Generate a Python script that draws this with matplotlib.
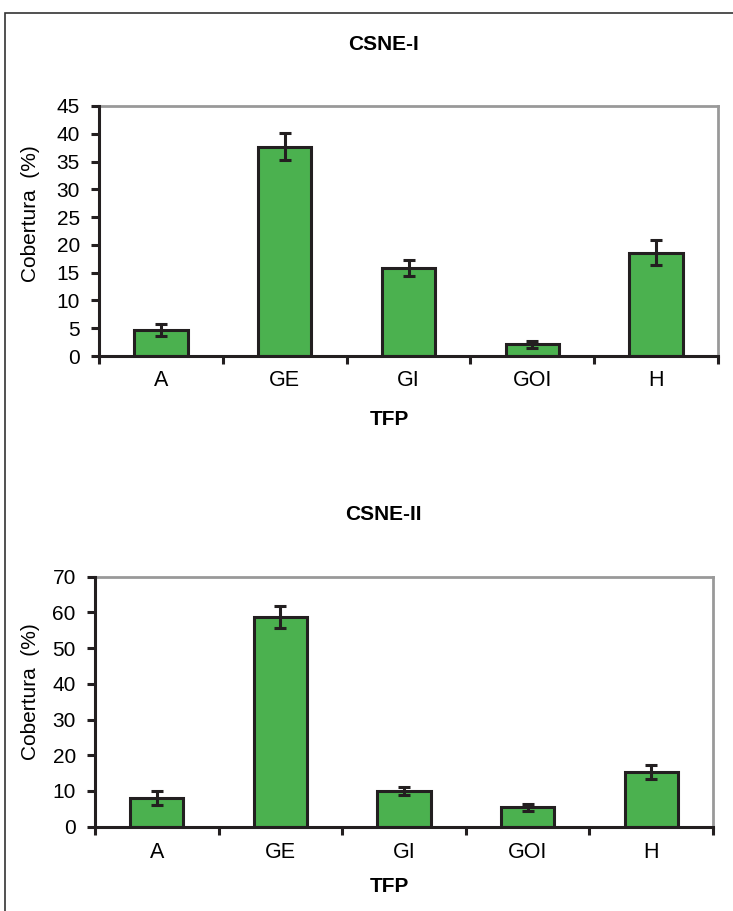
import numpy as np
import matplotlib.pyplot as plt
from matplotlib.patches import Rectangle

# Data
categories = ['A', 'GE', 'GI', 'GOI', 'H']
csne1_values = [4.7, 37.7, 15.8, 2.1, 18.6]
csne1_errors = [1.1, 2.4, 1.4, 0.6, 2.2]
csne2_values = [8.1, 58.7, 10.1, 5.4, 15.4]
csne2_errors = [2.0, 3.0, 1.1, 1.0, 2.0]
csne1_yticks = [0, 5, 10, 15, 20, 25, 30, 35, 40, 45]
csne2_yticks = [0, 10, 20, 30, 40, 50, 60, 70]

plt.rcParams['font.family'] = ['Liberation Sans', 'DejaVu Sans']

W, H = 733, 911
fig = plt.figure(figsize=(W / 100, H / 100), dpi=100)
fig.patch.set_facecolor('white')

# outer frame (runs off the right and bottom edges)
fig.patches.append(Rectangle((4.5 / W, -0.1), 1.2, 1 - 12.5 / H + 0.1,
                             transform=fig.transFigure, fill=False,
                             edgecolor='#333333', linewidth=1.2))

green = '#4BB14F'
dark = '#231F20'


def panel(rect, values, errors, yticks, title, title_y, lab_y, tfp_y, ylab_y):
    ax = fig.add_axes(rect)
    x = np.arange(len(categories))
    ax.bar(x, values, width=0.43, color=green, edgecolor=dark, linewidth=2.2, zorder=2)
    ax.errorbar(x, values, yerr=errors, fmt='none', ecolor=dark,
                elinewidth=2.2, capsize=4, capthick=2.2, zorder=3)
    ax.set_xlim(-0.5, len(categories) - 0.5)
    ax.set_ylim(0, yticks[-1])
    ax.set_yticks(yticks)
    ax.set_yticklabels([str(t) for t in yticks], fontsize=15)
    ax.set_xticks([])
    ax.set_xticks(np.arange(len(categories) + 1) - 0.5, minor=True)
    ax.tick_params(axis='x', which='minor', length=5.5, width=2.2, color=dark, direction='out')
    ax.tick_params(axis='y', length=5.8, width=2.2, color=dark, direction='out', pad=8)
    for s in ['left', 'bottom']:
        ax.spines[s].set_color(dark)
        ax.spines[s].set_linewidth(2.2)
        ax.spines[s].set_zorder(4)
    for s in ['top', 'right']:
        ax.spines[s].set_color('#999999')
        ax.spines[s].set_linewidth(2.0)

    # category labels centred in each slot
    x0, x1 = rect[0], rect[0] + rect[2]
    for i, c in enumerate(categories):
        fx = x0 + (i + 0.5) / len(categories) * (x1 - x0)
        fig.text(fx, 1 - lab_y / H, c, ha='center', va='center', fontsize=15.5)

    fig.text(383 / W, 1 - title_y / H, title, ha='center', va='center',
             fontsize=15, fontweight='bold')
    fig.text(389 / W, 1 - tfp_y / H, 'TFP', ha='center', va='center',
             fontsize=15, fontweight='bold')
    fig.text(31 / W, 1 - ylab_y / H, 'Cobertura  (%)', ha='center', va='center',
             rotation=90, fontsize=15)
    return ax


panel([99 / W, 1 - 356 / H, (718 - 99) / W, 250 / H],
      csne1_values, csne1_errors, csne1_yticks, 'CSNE-I', 44.5, 381, 419.5, 214)
panel([95 / W, 1 - 826.7 / H, (713 - 95) / W, 250 / H],
      csne2_values, csne2_errors, csne2_yticks, 'CSNE-II', 515, 852, 886, 692)

fig.savefig('out.png', dpi=100, facecolor='white')
